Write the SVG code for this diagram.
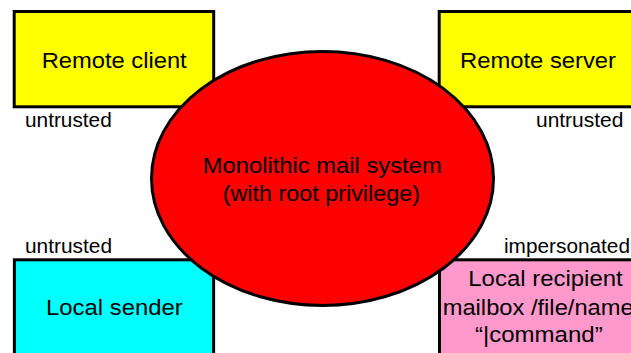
<svg xmlns="http://www.w3.org/2000/svg" width="631" height="353" viewBox="0 0 631 353">
  <style>
    .box { stroke: #000; stroke-width: 3; }
    .core { fill: #ff0000; stroke: #000; stroke-width: 3; }
    .big { font-family: "Liberation Sans", Arial, sans-serif; font-size: 22.5px; fill: #000; }
    .tag { font-family: "Liberation Sans", Arial, sans-serif; font-size: 20px; fill: #000; }
  </style>
  <rect width="631" height="353" fill="#fff"/>

  <!-- outside parties -->
  <g id="remote-client">
    <rect class="box" x="14.2" y="11.5" width="199.5" height="95.3" fill="#ffff00"/>
    <text class="big" x="41.7" y="68.3" textLength="145" lengthAdjust="spacingAndGlyphs">Remote client</text>
    <text class="tag" x="25" y="126.8" textLength="86.7" lengthAdjust="spacingAndGlyphs">untrusted</text>
  </g>

  <g id="remote-server">
    <rect class="box" x="439.2" y="11.5" width="260" height="95.3" fill="#ffff00"/>
    <text class="big" x="460" y="68.3" textLength="156" lengthAdjust="spacingAndGlyphs">Remote server</text>
    <text class="tag" x="536" y="126.8" textLength="87.3" lengthAdjust="spacingAndGlyphs">untrusted</text>
  </g>

  <g id="local-sender">
    <rect class="box" x="14.4" y="259.8" width="199.2" height="120" fill="#00ffff"/>
    <text class="big" x="46" y="315" textLength="136.7" lengthAdjust="spacingAndGlyphs">Local sender</text>
    <text class="tag" x="25" y="253.3" textLength="87" lengthAdjust="spacingAndGlyphs">untrusted</text>
  </g>

  <g id="local-recipient">
    <rect class="box" x="439.5" y="259.8" width="260" height="120" fill="#ff99cc"/>
    <text class="big" x="468.3" y="286" textLength="154.4" lengthAdjust="spacingAndGlyphs">Local recipient</text>
    <text class="big" x="442.7" y="315" textLength="191" lengthAdjust="spacingAndGlyphs">mailbox /file/name</text>
    <text class="big" x="475" y="342" textLength="127.7" lengthAdjust="spacingAndGlyphs">“|command”</text>
    <text class="tag" x="504" y="253.3" textLength="126" lengthAdjust="spacingAndGlyphs">impersonated</text>
  </g>

  <!-- the mail system itself, drawn over the box corners -->
  <g id="mail-system">
    <ellipse class="core" cx="322.5" cy="178.4" rx="171" ry="127"/>
    <text class="big" x="202.7" y="173.3" textLength="239" lengthAdjust="spacingAndGlyphs">Monolithic mail system</text>
    <text class="big" x="222.7" y="200.5" textLength="197.3" lengthAdjust="spacingAndGlyphs">(with root privilege)</text>
  </g>

  <g id="connectors"/>
</svg>
